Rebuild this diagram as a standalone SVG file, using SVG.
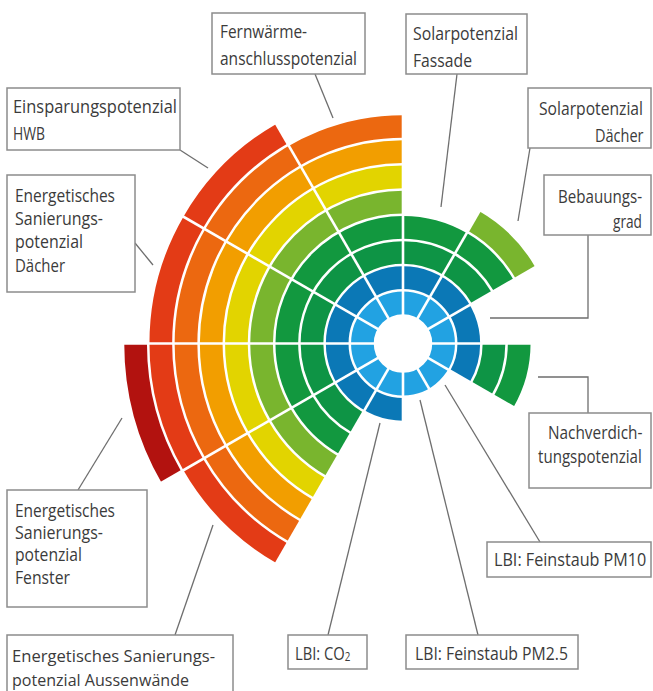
<svg xmlns="http://www.w3.org/2000/svg" width="653" height="691" viewBox="0 0 653 691">
<style>
.bg{fill:#ffffff}
.ring{fill:none;stroke-width:22.7}
.rad{stroke:#ffffff;stroke-width:2.6}
.box{fill:#ffffff;stroke:#8c8c8c;stroke-width:1.5}
.t{font-family:"Open Sans","DejaVu Sans",sans-serif;font-size:18px;fill:#3b3b3b}
.sm{font-size:17px}
.sub{font-size:12px}
.con{fill:none;stroke:#6e6e6e;stroke-width:1.3}
</style>
<rect class="bg" x="0" y="0" width="653" height="691"/>
<g id="chart">
  <circle class="ring" cx="403" cy="343.5" r="40.6" pathLength="360" stroke="#22a2e2"/>
  <circle class="ring" cx="403" cy="343.5" r="65.8" pathLength="360" stroke="#0b78b6" stroke-dasharray="30 60 270"/>
  <circle class="ring" cx="403" cy="343.5" r="91" pathLength="360" stroke="#0e9445" stroke-dasharray="30 90 210 30"/>
  <circle class="ring" cx="403" cy="343.5" r="116.2" pathLength="360" stroke="#12983f" stroke-dasharray="30 90 210 30"/>
  <circle class="ring" cx="403" cy="343.5" r="141.4" pathLength="360" stroke="#79b52e" stroke-dasharray="0 120 150 30 30 30"/>
  <circle class="ring" cx="403" cy="343.5" r="166.6" pathLength="360" stroke="#e2d400" stroke-dasharray="0 120 150 90"/>
  <circle class="ring" cx="403" cy="343.5" r="191.8" pathLength="360" stroke="#f29e00" stroke-dasharray="0 120 150 90"/>
  <circle class="ring" cx="403" cy="343.5" r="217" pathLength="360" stroke="#ec6810" stroke-dasharray="0 120 150 90"/>
  <circle class="ring" cx="403" cy="343.5" r="242.2" pathLength="360" stroke="#e33b16" stroke-dasharray="0 120 120 120"/>
  <circle class="ring" cx="403" cy="343.5" r="267.4" pathLength="360" stroke="#b2120f" stroke-dasharray="0 150 30 180"/>
  <g transform="translate(403 343.5)">
    <line class="rad" x1="0" y1="-290" x2="0" y2="290"/>
    <line class="rad" x1="0" y1="-290" x2="0" y2="290" transform="rotate(30)"/>
    <line class="rad" x1="0" y1="-290" x2="0" y2="290" transform="rotate(60)"/>
    <line class="rad" x1="0" y1="-290" x2="0" y2="290" transform="rotate(90)"/>
    <line class="rad" x1="0" y1="-290" x2="0" y2="290" transform="rotate(120)"/>
    <line class="rad" x1="0" y1="-290" x2="0" y2="290" transform="rotate(150)"/>
  </g>
</g>
<g id="connectors">
  <line class="con" x1="315" y1="74" x2="333" y2="118"/>
  <line class="con" x1="457" y1="74" x2="441" y2="207"/>
  <line class="con" x1="530" y1="148" x2="518" y2="221"/>
  <polyline class="con" points="588,235 588,318 490,318"/>
  <polyline class="con" points="588,413 588,377 538,377"/>
  <line class="con" x1="540" y1="542" x2="445" y2="385"/>
  <line class="con" x1="478" y1="635" x2="420" y2="400"/>
  <line class="con" x1="328" y1="635" x2="380" y2="423"/>
  <line class="con" x1="175" y1="635" x2="213" y2="525"/>
  <line class="con" x1="78" y1="490" x2="122" y2="418"/>
  <line class="con" x1="135" y1="243" x2="153" y2="265"/>
  <line class="con" x1="180" y1="150" x2="208" y2="168"/>
</g>
<g id="label-fernwaerme">
  <rect class="box" x="212" y="13" width="153" height="61"/>
  <text class="t" x="220" y="38" textLength="87" lengthAdjust="spacingAndGlyphs">Fernwärme-</text>
  <text class="t" x="220" y="65" textLength="137" lengthAdjust="spacingAndGlyphs">anschlusspotenzial</text>
</g>
<g id="label-solar-fassade">
  <rect class="box" x="406" y="14" width="121" height="60"/>
  <text class="t" x="413" y="40" textLength="105" lengthAdjust="spacingAndGlyphs">Solarpotenzial</text>
  <text class="t" x="413" y="67" textLength="59" lengthAdjust="spacingAndGlyphs">Fassade</text>
</g>
<g id="label-solar-daecher">
  <rect class="box" x="528" y="88" width="123" height="60"/>
  <text class="t" transform="translate(539 115) scale(0.871 1)">Solarpotenzial</text>
  <text class="t" transform="translate(595 142) scale(0.807 1)">Dächer</text>
</g>
<g id="label-bebauungsgrad">
  <rect class="box" x="544" y="175" width="107" height="60"/>
  <text class="t" transform="translate(558 203) scale(0.841 1)">Bebauungs-</text>
  <text class="t" transform="translate(613 228) scale(0.76 1)">grad</text>
</g>
<g id="label-nachverdichtung">
  <rect class="box" x="529" y="413" width="122" height="75"/>
  <text class="t" transform="translate(548 439) scale(0.854 1)">Nachverdich-</text>
  <text class="t" transform="translate(538 463) scale(0.839 1)">tungspotenzial</text>
</g>
<g id="label-pm10">
  <rect class="box" x="487" y="542" width="164" height="35"/>
  <text class="t" transform="translate(494 566) scale(0.898 1)">LBI: Feinstaub PM10</text>
</g>
<g id="label-pm25">
  <rect class="box" x="406" y="635" width="172" height="34"/>
  <text class="t" x="415" y="660" textLength="153" lengthAdjust="spacingAndGlyphs">LBI: Feinstaub PM2.5</text>
</g>
<g id="label-co2">
  <rect class="box" x="288" y="635" width="79" height="34"/>
  <text class="t" transform="translate(295 660) scale(0.82 1)">LBI: CO<tspan class="sub" dy="1">2</tspan></text>
</g>
<g id="label-aussenwaende">
  <rect class="box" x="7" y="635" width="226" height="66"/>
  <text class="t sm" x="12" y="662" textLength="203" lengthAdjust="spacingAndGlyphs">Energetisches Sanierungs-</text>
  <text class="t sm" x="12" y="686" textLength="177" lengthAdjust="spacingAndGlyphs">potenzial Aussenwände</text>
</g>
<g id="label-fenster">
  <rect class="box" x="7" y="490" width="140" height="117"/>
  <text class="t" x="15" y="517" textLength="100" lengthAdjust="spacingAndGlyphs">Energetisches</text>
  <text class="t" x="15" y="539" textLength="88" lengthAdjust="spacingAndGlyphs">Sanierungs-</text>
  <text class="t" x="15" y="561" textLength="67" lengthAdjust="spacingAndGlyphs">potenzial</text>
  <text class="t" x="15" y="584" textLength="55" lengthAdjust="spacingAndGlyphs">Fenster</text>
</g>
<g id="label-daecher">
  <rect class="box" x="7" y="175" width="128" height="117"/>
  <text class="t" x="15" y="202" textLength="100" lengthAdjust="spacingAndGlyphs">Energetisches</text>
  <text class="t" x="15" y="225" textLength="88" lengthAdjust="spacingAndGlyphs">Sanierungs-</text>
  <text class="t" x="15" y="248" textLength="68" lengthAdjust="spacingAndGlyphs">potenzial</text>
  <text class="t" x="15" y="272" textLength="50" lengthAdjust="spacingAndGlyphs">Dächer</text>
</g>
<g id="label-hwb">
  <rect class="box" x="7" y="88" width="173" height="62"/>
  <text class="t" x="13" y="113" textLength="164" lengthAdjust="spacingAndGlyphs">Einsparungspotenzial</text>
  <text class="t" x="13" y="140" textLength="32" lengthAdjust="spacingAndGlyphs">HWB</text>
</g>
</svg>
